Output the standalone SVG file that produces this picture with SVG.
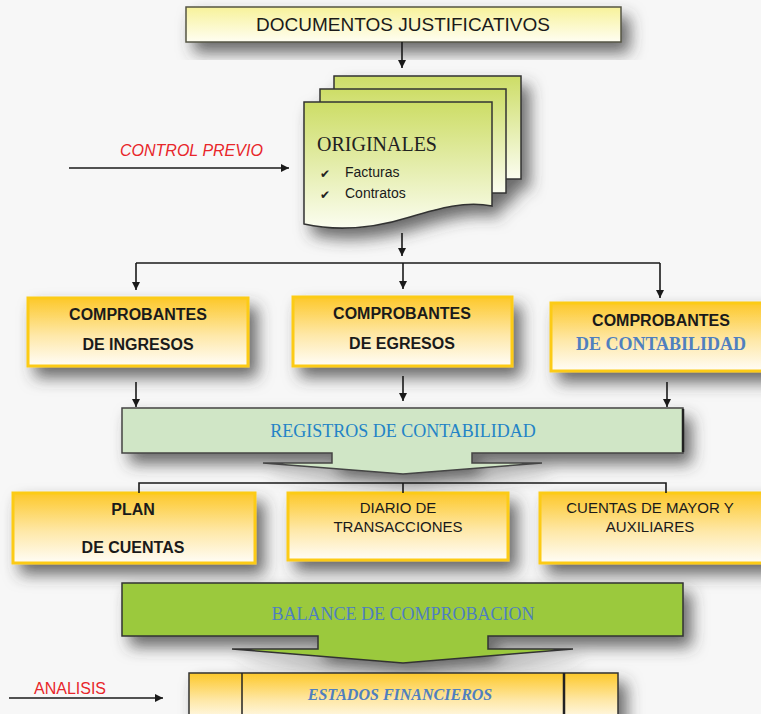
<svg xmlns="http://www.w3.org/2000/svg" width="761" height="714" viewBox="0 0 761 714">
<defs>
<linearGradient id="gTop" x1="0" y1="0" x2="0" y2="1"><stop offset="0" stop-color="#f7f29a"/><stop offset="1" stop-color="#fffef2"/></linearGradient>
<linearGradient id="gPage" x1="0" y1="0" x2="0" y2="1"><stop offset="0" stop-color="#cddd66"/><stop offset="1" stop-color="#fbfdf0"/></linearGradient>
<linearGradient id="gGold" x1="0" y1="0" x2="0" y2="1"><stop offset="0" stop-color="#fdc82a"/><stop offset="0.55" stop-color="#fee8a8"/><stop offset="1" stop-color="#fffdf7"/></linearGradient>
<filter id="sh" x="-20%" y="-30%" width="150%" height="180%"><feDropShadow dx="8" dy="10" stdDeviation="8" flood-color="#3a3a3a" flood-opacity="0.75"/></filter>
<marker id="ah" viewBox="0 0 10 10" refX="10" refY="5" markerWidth="8" markerHeight="8" markerUnits="userSpaceOnUse" orient="auto"><path d="M0,0 L10,5 L0,10 Z" fill="#1a1a1a"/></marker>
</defs>
<style>
.sans{font-family:"Liberation Sans",Arial,sans-serif;fill:#1a1a1a}
.b{font-weight:bold}
.serif{font-family:"Liberation Serif","Times New Roman",serif}
.gold{fill:url(#gGold);stroke:#fccb14;stroke-width:3}
.ln{stroke:#1a1a1a;stroke-width:1.6;fill:none}
.red{font-family:"Liberation Sans",Arial,sans-serif;fill:#e8262a;font-size:16px}
.blue{fill:#4f7fbf}
</style>
<rect width="761" height="714" fill="#f7f7f7"/>

<g id="documentos">
<rect x="186" y="7" width="435" height="35" fill="url(#gTop)" stroke="#555544" stroke-width="1.5" filter="url(#sh)"/>
<text class="sans" x="403" y="31" font-size="19" text-anchor="middle">DOCUMENTOS JUSTIFICATIVOS</text>
</g>

<g id="originales">
<g filter="url(#sh)">
<rect x="334" y="76" width="187" height="103" fill="url(#gPage)" stroke="#333" stroke-width="1.5"/>
<rect x="320" y="89" width="186" height="104" fill="url(#gPage)" stroke="#333" stroke-width="1.5"/>
<path d="M304,102 H492 V206 C465,201 440,208 410,217 C375,228 340,232 304,224 Z" fill="url(#gPage)" stroke="#333" stroke-width="1.5"/>
</g>
<text class="serif" x="317" y="151" font-size="20" fill="#222">ORIGINALES</text>
<text x="320" y="178" font-family="DejaVu Sans,sans-serif" font-size="12" fill="#222">✔</text>
<text x="320" y="199" font-family="DejaVu Sans,sans-serif" font-size="12" fill="#222">✔</text>
<text class="sans" x="345" y="177" font-size="14">Facturas</text>
<text class="sans" x="345" y="198" font-size="14">Contratos</text>
</g>

<g id="control-previo">
<text class="red" x="120" y="156" font-style="italic">CONTROL PREVIO</text>
</g>

<g id="comp-ingresos">
<rect class="gold" x="28" y="298" width="220" height="68" filter="url(#sh)"/>
<text class="sans b" x="138" y="320" font-size="16" text-anchor="middle">COMPROBANTES</text>
<text class="sans b" x="138" y="350" font-size="16" text-anchor="middle">DE INGRESOS</text>
</g>
<g id="comp-egresos">
<rect class="gold" x="293" y="297" width="219" height="69" filter="url(#sh)"/>
<text class="sans b" x="402" y="319" font-size="16" text-anchor="middle">COMPROBANTES</text>
<text class="sans b" x="402" y="349" font-size="16" text-anchor="middle">DE EGRESOS</text>
</g>
<g id="comp-contabilidad">
<rect class="gold" x="551" y="303" width="225" height="68" filter="url(#sh)"/>
<text class="sans b" x="661" y="326" font-size="16" text-anchor="middle">COMPROBANTES</text>
<text class="serif b blue" x="661" y="350" font-size="18" text-anchor="middle">DE CONTABILIDAD</text>
</g>

<g id="registros">
<path d="M122,408 H683 V453 H472 V463 H542 L403,474 L263,463 H332 V453 H122 Z" fill="#d0e6c6" stroke="#444" stroke-width="1.5" filter="url(#sh)"/>
<line x1="683" y1="409" x2="683" y2="452" stroke="#222" stroke-width="2.5"/>
<text class="serif" x="403" y="437" font-size="18" text-anchor="middle" fill="#2383c6">REGISTROS DE CONTABILIDAD</text>
</g>

<g id="plan">
<rect class="gold" x="13" y="493" width="242" height="70" filter="url(#sh)"/>
<text class="sans b" x="133" y="515" font-size="16" text-anchor="middle">PLAN</text>
<text class="sans b" x="133" y="553" font-size="16" text-anchor="middle">DE CUENTAS</text>
</g>
<g id="diario">
<rect class="gold" x="288" y="493" width="220" height="67" filter="url(#sh)"/>
<text class="sans" x="398" y="513" font-size="15" text-anchor="middle">DIARIO DE</text>
<text class="sans" x="398" y="532" font-size="15" text-anchor="middle">TRANSACCIONES</text>
</g>
<g id="cuentas-mayor">
<rect class="gold" x="540" y="493" width="236" height="70" filter="url(#sh)"/>
<text class="sans" x="650" y="513" font-size="15" text-anchor="middle">CUENTAS DE MAYOR Y</text>
<text class="sans" x="650" y="532" font-size="15" text-anchor="middle">AUXILIARES</text>
</g>

<g id="balance">
<path d="M122,583 H683 V636 H488 V649 H573 L403,663 L232,649 H318 V636 H122 Z" fill="#9bc93c" stroke="#333" stroke-width="1.5" filter="url(#sh)"/>
<text class="serif blue" x="403" y="620" font-size="18" text-anchor="middle">BALANCE DE COMPROBACION</text>
</g>

<g id="estados">
<rect x="189" y="673" width="429" height="50" fill="url(#gGold)" stroke="#333" stroke-width="1.5" filter="url(#sh)"/>
<line x1="242" y1="673" x2="242" y2="714" stroke="#222" stroke-width="1.5"/>
<line x1="564" y1="673" x2="564" y2="714" stroke="#222" stroke-width="2.5"/>
<text class="serif b blue" x="400" y="700" font-size="16" font-style="italic" text-anchor="middle">ESTADOS FINANCIEROS</text>
</g>

<g id="analisis">
<text class="red" x="34" y="694">ANALISIS</text>
</g>

<g id="connectors">
<line class="ln" x1="402" y1="42" x2="402" y2="68" marker-end="url(#ah)"/>
<line class="ln" x1="69" y1="168" x2="289" y2="168" marker-end="url(#ah)"/>
<line class="ln" x1="402" y1="233" x2="402" y2="256" marker-end="url(#ah)"/>
<path class="ln" d="M136,263 H660"/>
<line class="ln" x1="136" y1="263" x2="136" y2="290" marker-end="url(#ah)"/>
<line class="ln" x1="403" y1="263" x2="403" y2="289" marker-end="url(#ah)"/>
<line class="ln" x1="660" y1="263" x2="660" y2="298" marker-end="url(#ah)"/>
<line class="ln" x1="136" y1="382" x2="136" y2="407" marker-end="url(#ah)"/>
<line class="ln" x1="403" y1="376" x2="403" y2="401" marker-end="url(#ah)"/>
<line class="ln" x1="667" y1="382" x2="667" y2="407" marker-end="url(#ah)"/>
<path class="ln" d="M139,493 V483 H666 V493 M403,483 V493"/>
<line class="ln" x1="9" y1="698" x2="163" y2="698" marker-end="url(#ah)"/>
</g>
</svg>
